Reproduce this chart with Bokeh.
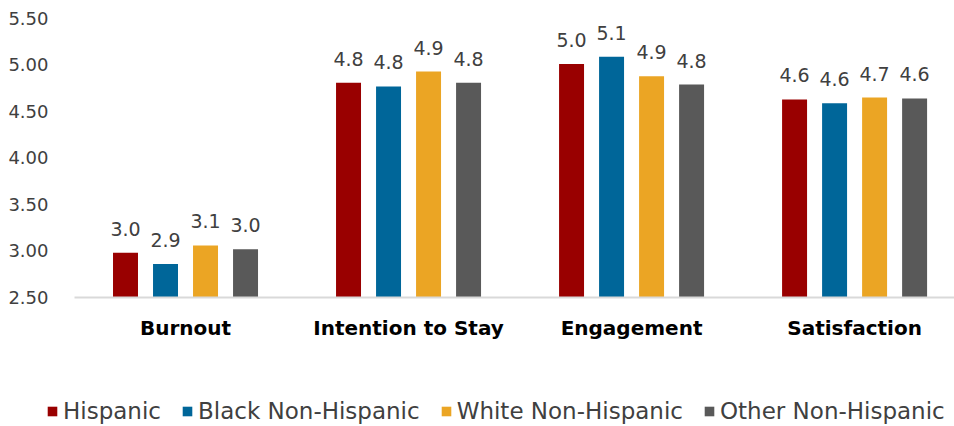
from bokeh.plotting import figure
from bokeh.models import ColumnDataSource, Range1d, FixedTicker, NumeralTickFormatter, Legend, LegendItem
from bokeh.core.properties import value
from bokeh.embed import file_html
from bokeh.resources import INLINE

categories = ["Burnout", "Intention to Stay", "Engagement", "Satisfaction"]
series_names = ["Hispanic", "Black Non-Hispanic", "White Non-Hispanic", "Other Non-Hispanic"]
hispanic = [2.98, 4.81, 5.01, 4.63]
black = [2.86, 4.77, 5.09, 4.59]
white = [3.06, 4.93, 4.88, 4.65]
other = [3.02, 4.81, 4.79, 4.64]
colors = ["#990000", "#006699", "#EBA524", "#595959"]
y_ticks = [2.5, 3.0, 3.5, 4.0, 4.5, 5.0, 5.5]

FONT = "DejaVu Sans"

p = figure(width=954, height=426, output_backend="svg", toolbar_location=None,
           x_range=Range1d(-0.8296, 3.448), y_range=Range1d(1.1129, 5.6935),
           min_border_left=0, min_border_right=0, min_border_top=0, min_border_bottom=0)
p.outline_line_color = None
p.xgrid.grid_line_color = None
p.ygrid.grid_line_color = None
p.background_fill_color = "white"
p.border_fill_color = "white"

group_step = 0.1794
bar_w = 0.112
renderers = []
for i, (name, vals) in enumerate(zip(series_names, [hispanic, black, white, other])):
    off = (i - 1.5) * group_step
    xs = [k + off for k in range(len(categories))]
    src = ColumnDataSource(dict(x=xs, top=vals, lab=[f"{v:.1f}" for v in vals]))
    r = p.vbar(x="x", top="top", bottom=2.5, width=bar_w, source=src,
               fill_color=colors[i], line_color=None)
    p.text(x="x", y="top", text="lab", source=src, text_align="center",
           text_baseline="alphabetic", y_offset=-24, text_font=value(FONT),
           text_font_size="19px", text_color="#404040")
    renderers.append((name, r))

# y axis
p.yaxis.fixed_location = -0.4978
p.yaxis.ticker = FixedTicker(ticks=y_ticks)
p.yaxis.formatter = NumeralTickFormatter(format="0.00")
p.yaxis.axis_line_color = None
p.yaxis.major_tick_line_color = None
p.yaxis.minor_tick_line_color = None
p.yaxis.major_label_text_font = FONT
p.yaxis.major_label_text_font_size = "18px"
p.yaxis.major_label_text_color = "#404040"
p.yaxis.major_label_standoff = 20

# x axis
p.xaxis.fixed_location = 2.5
p.xaxis.bounds = (-0.4978, 3.448)
p.xaxis.ticker = FixedTicker(ticks=list(range(len(categories))))
p.xaxis.major_label_overrides = {k: c for k, c in enumerate(categories)}
p.xaxis.axis_line_color = "#D9D9D9"
p.xaxis.axis_line_width = 2
p.xaxis.major_tick_line_color = None
p.xaxis.minor_tick_line_color = None
p.xaxis.major_label_text_font = FONT
p.xaxis.major_label_text_font_style = "bold"
p.xaxis.major_label_text_font_size = "20px"
p.xaxis.major_label_text_color = "#000000"
p.xaxis.major_label_standoff = 13

legend = Legend(items=[LegendItem(label=n, renderers=[r]) for n, r in renderers],
                orientation="horizontal", location=(46, 2),
                label_text_font=FONT, label_text_font_size="23px",
                label_text_color="#404040", glyph_width=12, glyph_height=12,
                label_standoff=5, spacing=20, border_line_color=None,
                background_fill_alpha=0, margin=0, padding=0)
p.add_layout(legend, "center")

open("out.html", "w").write(file_html(p, INLINE))
